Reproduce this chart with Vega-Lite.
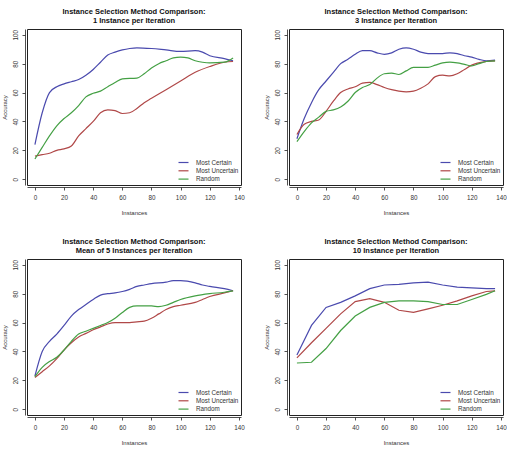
{
  "$schema": "https://vega.github.io/schema/vega-lite/v6.json",
  "padding": {"left": 0, "top": 7, "right": 0, "bottom": 0},
  "background": "white",
  "bounds": "flush",
  "spacing": {"row": 74, "column": 48},
  "columns": 2,
  "resolve": {"legend": {"color": "independent"}},
  "config": {
    "font": "Liberation Sans",
    "view": {"stroke": "#222222", "strokeWidth": 1},
    "title": {"font": "Liberation Sans", "fontSize": 7.5, "fontWeight": "bold", "color": "#111111", "anchor": "middle", "offset": 5, "lineHeight": 9},
    "axis": {
      "grid": false, "labelFont": "Liberation Sans", "labelFontSize": 6.3, "labelColor": "#333333",
      "titleFont": "Liberation Sans", "titleFontSize": 6, "titleFontWeight": "normal", "titleColor": "#333333",
      "tickColor": "#222222", "domainColor": "#222222", "tickSize": 3, "labelPadding": 4, "offset": 2, "domainWidth": 0.8, "tickWidth": 0.8
    },
    "axisX": {"titlePadding": 9},
    "axisY": {"labelAngle": -90, "labelAlign": "center", "labelBaseline": "bottom", "titlePadding": 5},
    "legend": {"orient": "none", "legendX": 153, "legendY": 130, "padding": 0, "labelFont": "Liberation Sans", "labelFontSize": 6.3, "labelColor": "#333333", "symbolType": "M-2,0H2", "symbolSize": 25, "symbolStrokeWidth": 1.2, "labelOffset": 9, "rowPadding": 1.3, "title": null}
  },
  "datasets": {
    "p1": [
      {"x":0,"method":"Most Certain","acc":24},{"x":5,"method":"Most Certain","acc":46},{"x":10,"method":"Most Certain","acc":60},{"x":15,"method":"Most Certain","acc":64},{"x":20,"method":"Most Certain","acc":66},{"x":25,"method":"Most Certain","acc":67.5},{"x":30,"method":"Most Certain","acc":69},{"x":35,"method":"Most Certain","acc":72},{"x":40,"method":"Most Certain","acc":76},{"x":45,"method":"Most Certain","acc":81},{"x":50,"method":"Most Certain","acc":86},{"x":55,"method":"Most Certain","acc":88},{"x":60,"method":"Most Certain","acc":89.5},{"x":65,"method":"Most Certain","acc":90.5},{"x":70,"method":"Most Certain","acc":91},{"x":80,"method":"Most Certain","acc":90.5},{"x":90,"method":"Most Certain","acc":89.5},{"x":100,"method":"Most Certain","acc":88.5},{"x":110,"method":"Most Certain","acc":89},{"x":115,"method":"Most Certain","acc":88},{"x":120,"method":"Most Certain","acc":85.5},{"x":130,"method":"Most Certain","acc":83.5},{"x":136,"method":"Most Certain","acc":82},
      {"x":0,"method":"Most Uncertain","acc":16},{"x":5,"method":"Most Uncertain","acc":17},{"x":10,"method":"Most Uncertain","acc":18},{"x":15,"method":"Most Uncertain","acc":20},{"x":20,"method":"Most Uncertain","acc":21},{"x":25,"method":"Most Uncertain","acc":23},{"x":30,"method":"Most Uncertain","acc":30},{"x":35,"method":"Most Uncertain","acc":35},{"x":40,"method":"Most Uncertain","acc":40},{"x":45,"method":"Most Uncertain","acc":46},{"x":50,"method":"Most Uncertain","acc":48},{"x":55,"method":"Most Uncertain","acc":47.5},{"x":60,"method":"Most Uncertain","acc":45.5},{"x":65,"method":"Most Uncertain","acc":46},{"x":70,"method":"Most Uncertain","acc":49},{"x":75,"method":"Most Uncertain","acc":53},{"x":80,"method":"Most Uncertain","acc":56},{"x":90,"method":"Most Uncertain","acc":62},{"x":100,"method":"Most Uncertain","acc":68},{"x":110,"method":"Most Uncertain","acc":74},{"x":120,"method":"Most Uncertain","acc":78},{"x":130,"method":"Most Uncertain","acc":81},{"x":136,"method":"Most Uncertain","acc":81.5},
      {"x":0,"method":"Random","acc":14},{"x":5,"method":"Random","acc":22},{"x":10,"method":"Random","acc":30},{"x":15,"method":"Random","acc":37},{"x":20,"method":"Random","acc":42},{"x":25,"method":"Random","acc":46},{"x":30,"method":"Random","acc":51},{"x":35,"method":"Random","acc":57},{"x":40,"method":"Random","acc":59.5},{"x":45,"method":"Random","acc":61},{"x":50,"method":"Random","acc":64},{"x":55,"method":"Random","acc":67},{"x":60,"method":"Random","acc":69.5},{"x":70,"method":"Random","acc":70},{"x":75,"method":"Random","acc":73},{"x":80,"method":"Random","acc":77},{"x":85,"method":"Random","acc":80},{"x":90,"method":"Random","acc":82},{"x":95,"method":"Random","acc":84},{"x":100,"method":"Random","acc":84.5},{"x":105,"method":"Random","acc":84},{"x":110,"method":"Random","acc":82},{"x":115,"method":"Random","acc":81},{"x":120,"method":"Random","acc":80.5},{"x":130,"method":"Random","acc":81},{"x":136,"method":"Random","acc":84}
    ],
    "p2": [
      {"x":0,"method":"Most Certain","acc":28},{"x":5,"method":"Most Certain","acc":42},{"x":10,"method":"Most Certain","acc":53},{"x":15,"method":"Most Certain","acc":62},{"x":20,"method":"Most Certain","acc":68},{"x":25,"method":"Most Certain","acc":74},{"x":30,"method":"Most Certain","acc":80},{"x":35,"method":"Most Certain","acc":83},{"x":40,"method":"Most Certain","acc":86.5},{"x":45,"method":"Most Certain","acc":89},{"x":50,"method":"Most Certain","acc":89},{"x":55,"method":"Most Certain","acc":87.5},{"x":60,"method":"Most Certain","acc":86.5},{"x":65,"method":"Most Certain","acc":87.5},{"x":70,"method":"Most Certain","acc":90},{"x":75,"method":"Most Certain","acc":91},{"x":80,"method":"Most Certain","acc":90},{"x":85,"method":"Most Certain","acc":88},{"x":90,"method":"Most Certain","acc":87},{"x":95,"method":"Most Certain","acc":87},{"x":100,"method":"Most Certain","acc":87},{"x":105,"method":"Most Certain","acc":87.5},{"x":110,"method":"Most Certain","acc":87},{"x":115,"method":"Most Certain","acc":85.5},{"x":120,"method":"Most Certain","acc":84.5},{"x":125,"method":"Most Certain","acc":83},{"x":130,"method":"Most Certain","acc":82},{"x":136,"method":"Most Certain","acc":82.5},
      {"x":0,"method":"Most Uncertain","acc":31},{"x":5,"method":"Most Uncertain","acc":38},{"x":10,"method":"Most Uncertain","acc":40},{"x":15,"method":"Most Uncertain","acc":41},{"x":20,"method":"Most Uncertain","acc":47},{"x":25,"method":"Most Uncertain","acc":54},{"x":30,"method":"Most Uncertain","acc":60},{"x":35,"method":"Most Uncertain","acc":62.5},{"x":40,"method":"Most Uncertain","acc":64},{"x":45,"method":"Most Uncertain","acc":66.5},{"x":50,"method":"Most Uncertain","acc":67},{"x":55,"method":"Most Uncertain","acc":65.5},{"x":60,"method":"Most Uncertain","acc":63.5},{"x":65,"method":"Most Uncertain","acc":62},{"x":70,"method":"Most Uncertain","acc":61},{"x":75,"method":"Most Uncertain","acc":60.5},{"x":80,"method":"Most Uncertain","acc":61},{"x":85,"method":"Most Uncertain","acc":63},{"x":90,"method":"Most Uncertain","acc":66},{"x":95,"method":"Most Uncertain","acc":71},{"x":100,"method":"Most Uncertain","acc":72},{"x":105,"method":"Most Uncertain","acc":71.5},{"x":110,"method":"Most Uncertain","acc":73},{"x":115,"method":"Most Uncertain","acc":76},{"x":120,"method":"Most Uncertain","acc":79},{"x":130,"method":"Most Uncertain","acc":81.5},{"x":136,"method":"Most Uncertain","acc":82},
      {"x":0,"method":"Random","acc":26},{"x":5,"method":"Random","acc":33},{"x":10,"method":"Random","acc":39},{"x":15,"method":"Random","acc":43},{"x":20,"method":"Random","acc":47},{"x":25,"method":"Random","acc":48},{"x":30,"method":"Random","acc":50},{"x":35,"method":"Random","acc":54},{"x":40,"method":"Random","acc":60},{"x":45,"method":"Random","acc":63.5},{"x":50,"method":"Random","acc":65.5},{"x":55,"method":"Random","acc":70},{"x":60,"method":"Random","acc":73},{"x":65,"method":"Random","acc":73.5},{"x":70,"method":"Random","acc":72.5},{"x":75,"method":"Random","acc":75},{"x":80,"method":"Random","acc":77.5},{"x":85,"method":"Random","acc":77.5},{"x":90,"method":"Random","acc":77.5},{"x":95,"method":"Random","acc":79},{"x":100,"method":"Random","acc":80.5},{"x":105,"method":"Random","acc":81},{"x":110,"method":"Random","acc":80.5},{"x":115,"method":"Random","acc":79.5},{"x":120,"method":"Random","acc":78.5},{"x":125,"method":"Random","acc":80},{"x":130,"method":"Random","acc":81.5},{"x":136,"method":"Random","acc":82}
    ],
    "p3": [
      {"x":0,"method":"Most Certain","acc":23},{"x":5,"method":"Most Certain","acc":40},{"x":10,"method":"Most Certain","acc":47},{"x":15,"method":"Most Certain","acc":52},{"x":20,"method":"Most Certain","acc":58},{"x":25,"method":"Most Certain","acc":64.5},{"x":30,"method":"Most Certain","acc":69},{"x":35,"method":"Most Certain","acc":72.5},{"x":40,"method":"Most Certain","acc":76},{"x":45,"method":"Most Certain","acc":79},{"x":50,"method":"Most Certain","acc":80},{"x":55,"method":"Most Certain","acc":80.5},{"x":60,"method":"Most Certain","acc":81.5},{"x":65,"method":"Most Certain","acc":83},{"x":70,"method":"Most Certain","acc":85},{"x":75,"method":"Most Certain","acc":86},{"x":80,"method":"Most Certain","acc":87},{"x":90,"method":"Most Certain","acc":88},{"x":95,"method":"Most Certain","acc":89},{"x":100,"method":"Most Certain","acc":89},{"x":110,"method":"Most Certain","acc":87.5},{"x":115,"method":"Most Certain","acc":86},{"x":120,"method":"Most Certain","acc":85},{"x":130,"method":"Most Certain","acc":83.5},{"x":136,"method":"Most Certain","acc":82},
      {"x":0,"method":"Most Uncertain","acc":22},{"x":5,"method":"Most Uncertain","acc":26},{"x":10,"method":"Most Uncertain","acc":30},{"x":15,"method":"Most Uncertain","acc":35},{"x":20,"method":"Most Uncertain","acc":41},{"x":25,"method":"Most Uncertain","acc":46},{"x":30,"method":"Most Uncertain","acc":50},{"x":35,"method":"Most Uncertain","acc":52.5},{"x":40,"method":"Most Uncertain","acc":55},{"x":45,"method":"Most Uncertain","acc":57},{"x":50,"method":"Most Uncertain","acc":59},{"x":55,"method":"Most Uncertain","acc":60},{"x":60,"method":"Most Uncertain","acc":60},{"x":65,"method":"Most Uncertain","acc":60},{"x":70,"method":"Most Uncertain","acc":60.5},{"x":75,"method":"Most Uncertain","acc":61},{"x":80,"method":"Most Uncertain","acc":63},{"x":85,"method":"Most Uncertain","acc":66},{"x":90,"method":"Most Uncertain","acc":69},{"x":95,"method":"Most Uncertain","acc":71},{"x":100,"method":"Most Uncertain","acc":72},{"x":110,"method":"Most Uncertain","acc":74},{"x":115,"method":"Most Uncertain","acc":76},{"x":120,"method":"Most Uncertain","acc":78},{"x":130,"method":"Most Uncertain","acc":80.5},{"x":136,"method":"Most Uncertain","acc":82},
      {"x":0,"method":"Random","acc":22.5},{"x":5,"method":"Random","acc":29},{"x":10,"method":"Random","acc":33},{"x":15,"method":"Random","acc":36},{"x":20,"method":"Random","acc":41},{"x":25,"method":"Random","acc":47},{"x":30,"method":"Random","acc":52},{"x":35,"method":"Random","acc":54},{"x":40,"method":"Random","acc":56},{"x":45,"method":"Random","acc":58},{"x":50,"method":"Random","acc":60},{"x":55,"method":"Random","acc":63},{"x":60,"method":"Random","acc":67},{"x":65,"method":"Random","acc":70.5},{"x":70,"method":"Random","acc":71.5},{"x":75,"method":"Random","acc":71.5},{"x":80,"method":"Random","acc":71.5},{"x":85,"method":"Random","acc":71},{"x":90,"method":"Random","acc":72},{"x":95,"method":"Random","acc":74},{"x":100,"method":"Random","acc":76},{"x":110,"method":"Random","acc":78.5},{"x":120,"method":"Random","acc":80},{"x":130,"method":"Random","acc":81},{"x":136,"method":"Random","acc":82}
    ],
    "p4": [
      {"x":0,"method":"Most Certain","acc":37.5},{"x":10,"method":"Most Certain","acc":58},{"x":20,"method":"Most Certain","acc":70.5},{"x":30,"method":"Most Certain","acc":74},{"x":40,"method":"Most Certain","acc":78.5},{"x":50,"method":"Most Certain","acc":83.5},{"x":60,"method":"Most Certain","acc":86},{"x":70,"method":"Most Certain","acc":86.5},{"x":80,"method":"Most Certain","acc":87.5},{"x":90,"method":"Most Certain","acc":88},{"x":100,"method":"Most Certain","acc":86},{"x":110,"method":"Most Certain","acc":84.5},{"x":120,"method":"Most Certain","acc":84},{"x":130,"method":"Most Certain","acc":83.5},{"x":136,"method":"Most Certain","acc":83.5},
      {"x":0,"method":"Most Uncertain","acc":35.5},{"x":10,"method":"Most Uncertain","acc":46},{"x":20,"method":"Most Uncertain","acc":56},{"x":30,"method":"Most Uncertain","acc":66},{"x":40,"method":"Most Uncertain","acc":74.5},{"x":50,"method":"Most Uncertain","acc":76.5},{"x":60,"method":"Most Uncertain","acc":74},{"x":70,"method":"Most Uncertain","acc":68.5},{"x":80,"method":"Most Uncertain","acc":67},{"x":90,"method":"Most Uncertain","acc":69.5},{"x":100,"method":"Most Uncertain","acc":72},{"x":110,"method":"Most Uncertain","acc":75},{"x":120,"method":"Most Uncertain","acc":78.5},{"x":130,"method":"Most Uncertain","acc":81.5},{"x":136,"method":"Most Uncertain","acc":82},
      {"x":0,"method":"Random","acc":32},{"x":10,"method":"Random","acc":32.5},{"x":20,"method":"Random","acc":42},{"x":30,"method":"Random","acc":54.5},{"x":40,"method":"Random","acc":64.5},{"x":50,"method":"Random","acc":70.5},{"x":60,"method":"Random","acc":74},{"x":70,"method":"Random","acc":75},{"x":80,"method":"Random","acc":75},{"x":90,"method":"Random","acc":74.5},{"x":100,"method":"Random","acc":72.5},{"x":110,"method":"Random","acc":72.5},{"x":120,"method":"Random","acc":76},{"x":130,"method":"Random","acc":79.5},{"x":136,"method":"Random","acc":82}
    ]
  },
  "concat": [
    {
      "title": {"text": ["Instance Selection Method Comparison:", "1 Instance per Iteration"]},
      "width": 214, "height": 156,
      "data": {"name": "p1"},
      "mark": {"type": "line", "interpolate": "monotone", "strokeWidth": 1.2},
      "encoding": {
        "x": {"field": "x", "type": "quantitative", "scale": {"domain": [-5.44, 141.44], "nice": false, "zero": false}, "axis": {"values": [0,20,40,60,80,100,120,140], "title": "Instances"}},
        "y": {"field": "acc", "type": "quantitative", "scale": {"domain": [-4, 104], "nice": false}, "axis": {"values": [0,20,40,60,80,100], "title": "Accuracy"}},
        "color": {"field": "method", "type": "nominal", "scale": {"domain": ["Most Certain", "Most Uncertain", "Random"], "range": ["#4a4aae", "#b04848", "#44a044"]}}
      }
    },
    {
      "title": {"text": ["Instance Selection Method Comparison:", "3 Instance per Iteration"]},
      "width": 214, "height": 156,
      "data": {"name": "p2"},
      "mark": {"type": "line", "interpolate": "monotone", "strokeWidth": 1.2},
      "encoding": {
        "x": {"field": "x", "type": "quantitative", "scale": {"domain": [-5.44, 141.44], "nice": false, "zero": false}, "axis": {"values": [0,20,40,60,80,100,120,140], "title": "Instances"}},
        "y": {"field": "acc", "type": "quantitative", "scale": {"domain": [-4, 104], "nice": false}, "axis": {"values": [0,20,40,60,80,100], "title": "Accuracy"}},
        "color": {"field": "method", "type": "nominal", "scale": {"domain": ["Most Certain", "Most Uncertain", "Random"], "range": ["#4a4aae", "#b04848", "#44a044"]}}
      }
    },
    {
      "title": {"text": ["Instance Selection Method Comparison:", "Mean of 5 Instances per Iteration"]},
      "width": 214, "height": 156,
      "data": {"name": "p3"},
      "mark": {"type": "line", "interpolate": "monotone", "strokeWidth": 1.2},
      "encoding": {
        "x": {"field": "x", "type": "quantitative", "scale": {"domain": [-5.44, 141.44], "nice": false, "zero": false}, "axis": {"values": [0,20,40,60,80,100,120,140], "title": "Instances"}},
        "y": {"field": "acc", "type": "quantitative", "scale": {"domain": [-4, 104], "nice": false}, "axis": {"values": [0,20,40,60,80,100], "title": "Accuracy"}},
        "color": {"field": "method", "type": "nominal", "scale": {"domain": ["Most Certain", "Most Uncertain", "Random"], "range": ["#4a4aae", "#b04848", "#44a044"]}}
      }
    },
    {
      "title": {"text": ["Instance Selection Method Comparison:", "10 Instance per Iteration"]},
      "width": 214, "height": 156,
      "data": {"name": "p4"},
      "mark": {"type": "line", "strokeWidth": 1.2},
      "encoding": {
        "x": {"field": "x", "type": "quantitative", "scale": {"domain": [-5.44, 141.44], "nice": false, "zero": false}, "axis": {"values": [0,20,40,60,80,100,120,140], "title": "Instances"}},
        "y": {"field": "acc", "type": "quantitative", "scale": {"domain": [-4, 104], "nice": false}, "axis": {"values": [0,20,40,60,80,100], "title": "Accuracy"}},
        "color": {"field": "method", "type": "nominal", "scale": {"domain": ["Most Certain", "Most Uncertain", "Random"], "range": ["#4a4aae", "#b04848", "#44a044"]}}
      }
    }
  ]
}
